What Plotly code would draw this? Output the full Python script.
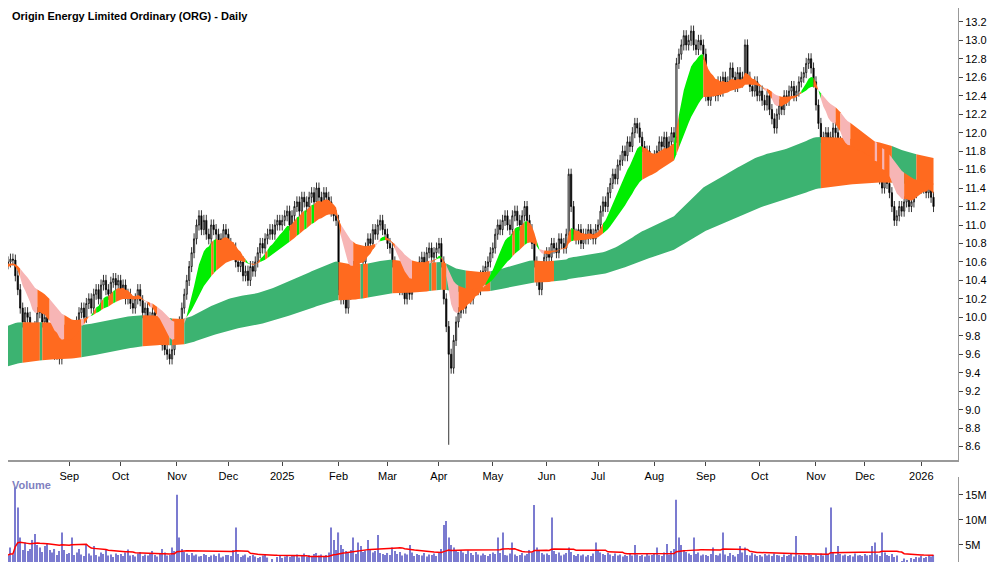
import pandas as pd
import numpy as np
import plotly.graph_objects as go
from plotly.subplots import make_subplots

START = "2024-07-22"
closes = [
10.42,10.48,10.50,10.55,10.58,10.60,10.63,10.62,
10.45,10.30,10.10,9.95,10.05,10.00,9.85,9.70,9.90,10.05,10.10,9.95,10.00,9.80,9.85,9.70,9.60,9.72,9.55,9.65,9.80,9.75,
9.70,9.82,9.90,9.95,10.05,10.10,10.00,10.15,10.20,10.10,10.25,10.30,10.20,10.35,10.40,10.30,10.25,10.38,10.42,10.35,10.40,
10.30,10.35,10.20,10.25,10.15,10.10,10.20,10.30,10.18,10.05,10.10,10.00,9.95,10.05,9.90,9.80,9.85,9.70,9.65,9.60,9.55,9.65,9.80,
9.85,9.95,10.10,10.25,10.40,10.55,10.70,10.85,11.00,11.10,10.95,11.05,10.90,10.85,11.00,10.95,10.90,10.80,10.85,10.95,10.90,
10.80,10.70,10.75,10.60,10.55,10.60,10.45,10.50,10.40,10.55,10.50,10.60,10.70,10.80,10.75,10.85,10.90,10.95,10.90,11.00,11.05,11.00,
11.05,11.10,11.15,11.00,11.10,11.20,11.25,11.15,11.30,11.25,11.20,11.30,11.35,11.25,11.40,11.30,11.20,11.35,11.30,11.25,11.15,11.10,11.05,
10.30,10.20,10.35,10.10,10.25,10.45,10.55,10.50,10.65,10.70,10.60,10.75,10.85,10.80,10.95,10.90,11.00,11.05,10.95,10.90,
10.80,10.75,10.60,10.50,10.40,10.30,10.35,10.20,10.30,10.25,10.40,10.50,10.45,10.60,10.65,10.55,10.70,10.75,10.65,10.70,10.75,
10.80,10.60,10.20,9.90,9.60,9.45,9.75,9.95,10.05,10.20,10.10,10.25,10.30,10.20,10.35,10.40,10.30,10.45,10.50,10.55,10.60,10.70,
10.75,10.90,11.00,10.95,11.05,11.10,11.00,10.95,11.10,11.15,11.05,11.00,11.10,11.20,11.05,10.95,10.80,10.60,10.40,10.30,10.55,10.65,
10.70,10.65,10.80,10.75,10.70,10.85,10.80,10.75,10.90,11.55,11.20,10.90,10.85,10.95,10.80,10.90,10.85,10.95,10.90,10.85,10.95,
11.00,11.15,11.25,11.20,11.35,11.45,11.55,11.50,11.65,11.70,11.80,11.75,11.90,11.85,12.00,12.10,12.05,11.95,11.85,11.75,11.80,11.65,11.70,
11.75,11.80,11.90,11.85,11.95,11.80,11.90,12.00,11.95,12.75,12.85,12.95,13.05,12.95,13.00,13.10,12.95,12.90,13.00,12.95,12.85,
12.40,12.35,12.45,12.50,12.40,12.55,12.45,12.60,12.50,12.55,12.70,12.60,12.50,12.65,12.55,12.60,12.95,12.60,12.50,12.45,12.55,12.40,
12.45,12.35,12.30,12.40,12.25,12.15,12.05,12.20,12.30,12.25,12.40,12.35,12.45,12.50,12.40,12.45,12.55,12.60,12.65,12.75,12.80,12.70,12.55,
12.30,12.10,11.95,11.90,12.00,11.85,11.95,12.05,12.00,11.90,11.80,11.60,11.70,11.75,11.85,11.80,11.75,11.70,11.80,11.75,
11.70,11.65,11.75,11.60,11.55,11.65,11.50,11.40,11.55,11.45,11.35,11.20,11.05,11.10,11.20,11.15,11.25,11.30,11.20,11.25,11.35,11.40,11.45,
11.40,11.45,11.35,11.50,11.30,11.20]
first_open = 10.35
wick = 0.06
low_overrides = {"2025-04-07": 8.62}
volumes_m = [
3.5,2.8,3.0,2.6,3.2,2.9,4.5,3.1,
16.5,12.5,6.5,4.0,5.5,3.8,4.2,6.0,7.2,5.0,4.5,3.6,4.8,5.2,4.0,3.5,4.2,3.0,3.8,7.5,4.0,3.2,
3.4,6.5,3.0,3.5,4.2,3.1,2.8,5.0,3.3,2.9,4.8,3.0,2.7,3.5,3.2,4.0,2.9,3.1,2.6,3.3,3.0,
3.2,2.8,3.5,4.1,2.9,3.0,2.7,3.3,3.6,2.8,3.1,2.9,3.4,3.8,3.0,2.7,3.2,4.2,3.5,2.9,3.0,4.5,3.8,
15.0,6.5,4.2,3.6,3.3,3.0,3.4,2.9,3.1,2.7,2.8,3.2,3.0,2.6,2.9,3.1,2.8,3.3,2.5,2.7,3.0,
3.0,2.8,4.0,8.5,3.2,2.6,2.9,3.1,2.5,2.8,3.0,2.7,2.4,2.6,2.9,3.2,2.5,1.5,2.2,1.2,2.6,2.8,
2.4,2.7,2.9,2.6,3.0,2.8,3.1,2.5,2.9,3.3,2.7,3.0,2.8,3.2,3.4,2.9,3.1,2.6,3.0,3.5,8.5,6.0,4.0,
7.5,5.0,4.2,3.8,3.5,4.0,6.5,3.2,5.5,4.8,3.6,3.9,6.0,4.1,3.5,3.8,7.0,3.4,3.2,3.0,
3.4,3.0,4.5,3.8,3.2,3.6,2.9,3.3,3.1,5.0,3.5,2.8,3.2,3.0,2.9,3.4,2.7,3.1,3.0,3.3,2.8,
3.5,4.2,9.0,9.8,6.5,5.0,4.5,3.8,3.6,4.0,3.5,3.2,3.9,3.4,3.0,3.6,3.1,2.9,3.3,3.0,2.8,3.2,
3.5,3.2,6.5,3.4,7.5,3.0,2.9,3.3,5.5,3.1,2.8,3.0,3.4,2.9,3.2,4.0,3.5,13.0,4.5,3.8,3.4,3.1,
3.3,3.0,10.5,3.8,3.2,3.5,2.9,3.1,3.4,4.5,3.6,3.0,2.8,3.2,2.9,3.1,2.7,3.0,2.8,3.3,5.5,
4.0,3.5,3.2,3.0,3.4,3.1,2.8,3.3,2.9,3.1,2.7,3.0,2.8,3.2,2.9,5.0,3.1,2.8,3.0,2.7,3.2,2.9,3.0,
3.2,4.5,3.0,2.8,3.5,5.2,3.1,3.8,4.2,14.0,6.5,5.0,4.0,3.6,3.3,3.0,6.5,3.2,3.5,2.9,3.1,
3.0,2.8,3.2,4.5,3.0,2.9,3.3,7.5,3.1,2.8,3.4,3.0,2.7,3.2,4.8,3.5,4.5,3.0,2.9,3.4,3.1,2.8,
3.0,2.7,3.2,2.9,3.1,2.8,3.3,3.0,2.9,2.6,3.1,2.8,3.0,3.2,2.7,6.8,3.0,2.9,3.1,2.8,3.2,3.0,2.6,
3.1,2.8,3.3,2.9,4.5,3.2,12.5,3.5,3.0,4.8,3.2,2.9,3.1,2.8,3.0,2.7,3.3,2.9,3.0,2.8,
3.2,2.9,3.0,4.8,5.5,3.1,2.8,7.5,3.5,3.0,2.8,3.2,2.6,2.9,1.5,1.8,2.3,2.0,1.6,2.4,2.2,2.6,2.5,
2.8,2.4,2.6,2.9,2.7,3.0]
# EMA settings and seeds
short_periods = (10, 30); short_seeds = (10.55, 10.60)
long_periods = (130, 260); long_seeds = (9.85, 9.42)
vol_ma_period = 30
month_labels = ["Sep","Oct","Nov","Dec","2025","Feb","Mar","Apr","May","Jun","Jul","Aug","Sep","Oct","Nov","Dec","2026"]

n = min(len(closes), len(volumes_m))
closes = closes[:n]; volumes_m = volumes_m[:n]
dates = pd.bdate_range(START, periods=n)
month_ticks = [d for d in pd.bdate_range("2024-09-01", "2026-01-31", freq="BMS")]
c = np.array(closes)
o = np.concatenate([[first_open], c[:-1]])
h = np.maximum(o, c) + wick
l = np.minimum(o, c) - wick
for d, v in low_overrides.items():
    idx = np.where(dates == pd.Timestamp(d))[0]
    if len(idx): l[idx[0]] = v

def ema(x, p, seed):
    a = 2/(p+1); out = []; e = seed
    for v in x:
        e = e + a*(v-e); out.append(e)
    return np.array(out)

s1 = ema(c, short_periods[0], short_seeds[0]); s2 = ema(c, short_periods[1], short_seeds[1])
l1 = ema(c, long_periods[0], long_seeds[0]); l2 = ema(c, long_periods[1], long_seeds[1])
sup = np.maximum(s1, s2); slo = np.minimum(s1, s2)
lup = np.maximum(l1, l2); llo = np.minimum(l1, l2)

GREEN = "#00ee00"; PINK = "#f7b5b5"; ORANGE = "#ff6a1f"; SEA = "#3cb371"
scol = []; lcol = []
for i in range(n):
    inside_s = (l[i] <= sup[i]) and (h[i] >= slo[i])
    scol.append(ORANGE if inside_s else (GREEN if s1[i] >= s2[i] else PINK))
    inside_l = (l[i] <= lup[i]) and (h[i] >= llo[i])
    lcol.append(ORANGE if inside_l else SEA)

fig = make_subplots(rows=2, cols=1, shared_xaxes=True, row_heights=[0.83, 0.17], vertical_spacing=0.03)

def band(lo, up, cols):
    i = 0
    while i < n:
        j = i
        while j + 1 < n and cols[j+1] == cols[i]:
            j += 1
        k = min(j + 1, n - 1)
        xs = list(dates[i:k+1])
        fig.add_trace(go.Scatter(x=xs, y=lo[i:k+1], mode="lines", line=dict(width=0, color=cols[i]),
                                 hoverinfo="skip", showlegend=False), row=1, col=1)
        fig.add_trace(go.Scatter(x=xs, y=up[i:k+1], mode="lines", line=dict(width=0, color=cols[i]),
                                 fill="tonexty", fillcolor=cols[i], hoverinfo="skip", showlegend=False), row=1, col=1)
        i = j + 1

band(llo, lup, lcol)
band(slo, sup, scol)

fig.add_trace(go.Candlestick(x=dates, open=o, high=h, low=l, close=c,
    increasing=dict(fillcolor="white", line=dict(color="black", width=0.8)),
    decreasing=dict(fillcolor="black", line=dict(color="black", width=0.8)),
    whiskerwidth=0, showlegend=False), row=1, col=1)

vol = np.array(volumes_m) * 1e6
vma = pd.Series(vol).rolling(vol_ma_period, min_periods=1).mean()
fig.add_trace(go.Bar(x=dates, y=vol, marker=dict(color="#7b7bd0", line=dict(width=0)), showlegend=False), row=2, col=1)
fig.add_trace(go.Scatter(x=dates, y=vma, mode="lines", line=dict(color="#ff0000", width=1.5), showlegend=False), row=2, col=1)

fig.update_layout(width=1000, height=562, margin=dict(l=0, r=50, t=0, b=0), paper_bgcolor="white",
                  plot_bgcolor="white", bargap=0.55, font=dict(family="Liberation Sans, Arial", size=11, color="black"),
                  xaxis_rangeslider_visible=False)
xr = ["2024-07-29", "2026-01-22"]
rb = [dict(bounds=["sat", "mon"])]
fig.update_xaxes(range=xr, rangebreaks=rb, showgrid=False, tickvals=month_ticks, ticktext=month_labels,
                 ticks="outside", ticklen=4, showline=True, linecolor="#999", linewidth=2,
                 tickfont=dict(size=11), row=1, col=1, showticklabels=True)
fig.update_xaxes(range=xr, rangebreaks=rb, showgrid=False, showticklabels=False, showline=False, row=2, col=1)
fig.update_yaxes(side="right", range=[8.45, 13.35], tickvals=[round(8.6+0.2*i, 1) for i in range(24)],
                 tickformat=".1f", showgrid=False, ticks="outside", ticklen=4, showline=True, linecolor="#999",
                 tickfont=dict(size=11), row=1, col=1)
fig.update_yaxes(side="right", range=[0, 18.5e6], tickvals=[5e6, 10e6, 15e6], ticktext=["5M", "10M", "15M"],
                 showgrid=False, ticks="outside", ticklen=4, showline=True, linecolor="#999",
                 tickfont=dict(size=11), row=2, col=1)
fig.add_annotation(text="<b>Origin Energy Limited Ordinary (ORG) - Daily</b>", xref="paper", yref="paper",
                   x=0.002, y=1.0, xanchor="left", yanchor="top", showarrow=False, font=dict(size=11))
fig.add_annotation(text="<b>Volume</b>", xref="paper", yref="y2 domain", x=0.002, y=1.0, xanchor="left",
                   yanchor="top", showarrow=False, font=dict(size=11, color="#8080c0"))
fig.write_html("out.html")
